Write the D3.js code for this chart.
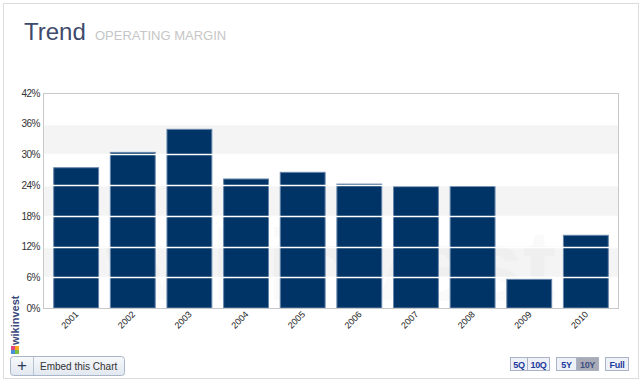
<!DOCTYPE html>
<html><head><meta charset="utf-8">
<script src="https://cdn.jsdelivr.net/npm/d3@7"></script>
<style>body{margin:0;background:#fff;}svg{display:block;font-family:"Liberation Sans",Arial,sans-serif;}</style>
</head><body><svg id="c" width="642" height="383"></svg>
<script>
const years = ["2001","2002","2003","2004","2005","2006","2007","2008","2009","2010"];
const margin = [27.5, 30.5, 35.0, 25.3, 26.6, 24.3, 23.8, 23.9, 5.7, 14.3];
const yTicks = [0, 6, 12, 18, 24, 30, 36, 42];
const bands = [[6, 12], [18, 24], [30, 36]];
const rangeButtons = [["5Q",0],["10Q",0],["5Y",1],["10Y",1],["Full",2]];

const svg = d3.select("#c");
svg.append("rect").attr("x",3.5).attr("y",3.5).attr("width",635).attr("height",375)
  .attr("fill","#fff").attr("stroke","#dcdcdc");

const L=43, R=619, T=93, B=308;
const x = d3.scaleBand().domain(years).range([L,R]).paddingInner(0.19).paddingOuter(0.18);
const y = d3.scaleLinear().domain([0,42]).range([B,T]);

// title
svg.append("text").attr("x",24).attr("y",40).attr("font-size",24).attr("fill","#3e4a6c").text("Trend");
svg.append("text").attr("x",95).attr("y",40).attr("font-size",13).attr("fill","#c6c6c6").text("OPERATING MARGIN");

// bands
svg.append("g").selectAll("rect").data(bands).join("rect")
  .attr("x",L).attr("width",R-L).attr("y",d=>y(d[1])).attr("height",d=>y(d[0])-y(d[1]))
  .attr("fill","#f4f4f4");

// watermark
svg.append("text").attr("x",(L+R)/2).attr("y",300).attr("text-anchor","middle")
  .attr("font-size",100).attr("font-weight","bold").attr("fill","#000").attr("opacity",0.015)
  .text("wikinvest");

// bars
svg.append("g").selectAll("rect").data(years).join("rect")
  .attr("x",d=>x(d)+0.5).attr("width",x.bandwidth()-1)
  .attr("y",(d,i)=>y(margin[i])+0.5).attr("height",(d,i)=>y(0)-y(margin[i])-0.5)
  .attr("fill","#003366").attr("stroke","#6685ab").attr("stroke-width",1);

// gridlines over bars
svg.append("g").selectAll("line").data(yTicks.filter(t=>t>0&&t<42)).join("line")
  .attr("x1",L).attr("x2",R).attr("y1",d=>Math.round(y(d))+0.5).attr("y2",d=>Math.round(y(d))+0.5)
  .attr("stroke","#fff").attr("stroke-width",1.3);

// frame
svg.append("rect").attr("x",L+0.5).attr("y",T+0.5).attr("width",R-L-1).attr("height",B-T)
  .attr("fill","none").attr("stroke","#c8c8c8");

// y axis
const ya = svg.append("g").attr("transform",`translate(${L},0)`)
  .call(d3.axisLeft(y).tickValues(yTicks).tickFormat(d=>d+"%").tickSize(0).tickPadding(3));
ya.select(".domain").remove();
ya.selectAll("text").attr("font-size",10).attr("fill","#333").attr("font-family","Liberation Sans, Arial, sans-serif").attr("letter-spacing",-0.5);

// x axis
const xa = svg.append("g").attr("transform",`translate(0,${B})`)
  .call(d3.axisBottom(x).tickSize(0).tickPadding(0));
xa.select(".domain").remove();
xa.selectAll("text").attr("font-size",9).attr("fill","#222").attr("font-family","Liberation Sans, Arial, sans-serif")
  .attr("text-anchor","end").attr("dy",0)
  .attr("transform",function(){ return "translate(3,7) rotate(-45)"; })
  .attr("y",0).attr("x",0);

// wikinvest logo
const lg = svg.append("g").attr("transform","translate(19,345) rotate(-90)");
lg.append("text").attr("x",0).attr("y",0).attr("font-size",11).attr("font-weight","bold").attr("fill","#3b4a7c").text("wikinvest");
const ic = svg.append("g").attr("transform","translate(11,346)");
[["#e0457b",0,0],["#f5a623",4,0],["#4a90d9",0,4],["#7bc043",4,4]].forEach(c=>{
  ic.append("rect").attr("x",c[1]).attr("y",c[2]).attr("width",4).attr("height",4).attr("fill",c[0]);
});

// embed button
const defs = svg.append("defs");
const gr = defs.append("linearGradient").attr("id","bg").attr("x1",0).attr("y1",0).attr("x2",0).attr("y2",1);
gr.append("stop").attr("offset",0).attr("stop-color","#f7f9fc");
gr.append("stop").attr("offset",1).attr("stop-color","#e2e8f0");
svg.append("rect").attr("x",10.5).attr("y",356.5).attr("width",114).attr("height",19).attr("rx",3)
  .attr("fill","url(#bg)").attr("stroke","#a9b6c8");
svg.append("line").attr("x1",33.5).attr("x2",33.5).attr("y1",357).attr("y2",375).attr("stroke","#b8c3d2");
svg.append("text").attr("x",22).attr("y",371).attr("text-anchor","middle").attr("font-size",17).attr("fill","#2a3a5c").text("+");
svg.append("text").attr("x",40).attr("y",370).attr("font-size",10).attr("fill","#333").text("Embed this Chart");

// range buttons
const bx = [[510,17],[527,22],[556,20],[576,22],[605,23]];
const bg = svg.append("g");
rangeButtons.forEach((b,i)=>{
  const sel = b[0]==="10Y";
  bg.append("rect").attr("x",bx[i][0]+0.5).attr("y",357.5).attr("width",bx[i][1]).attr("height",13)
    .attr("fill",sel?"#a8abb6":"#eef1f7").attr("stroke","#aab4c6");
  bg.append("text").attr("x",bx[i][0]+bx[i][1]/2+0.5).attr("y",367.5).attr("text-anchor","middle")
    .attr("font-size",9).attr("font-weight","bold").attr("letter-spacing",-0.3).attr("fill",sel?"#3f4f80":"#1d3a9c").text(b[0]);
});
</script></body></html>
